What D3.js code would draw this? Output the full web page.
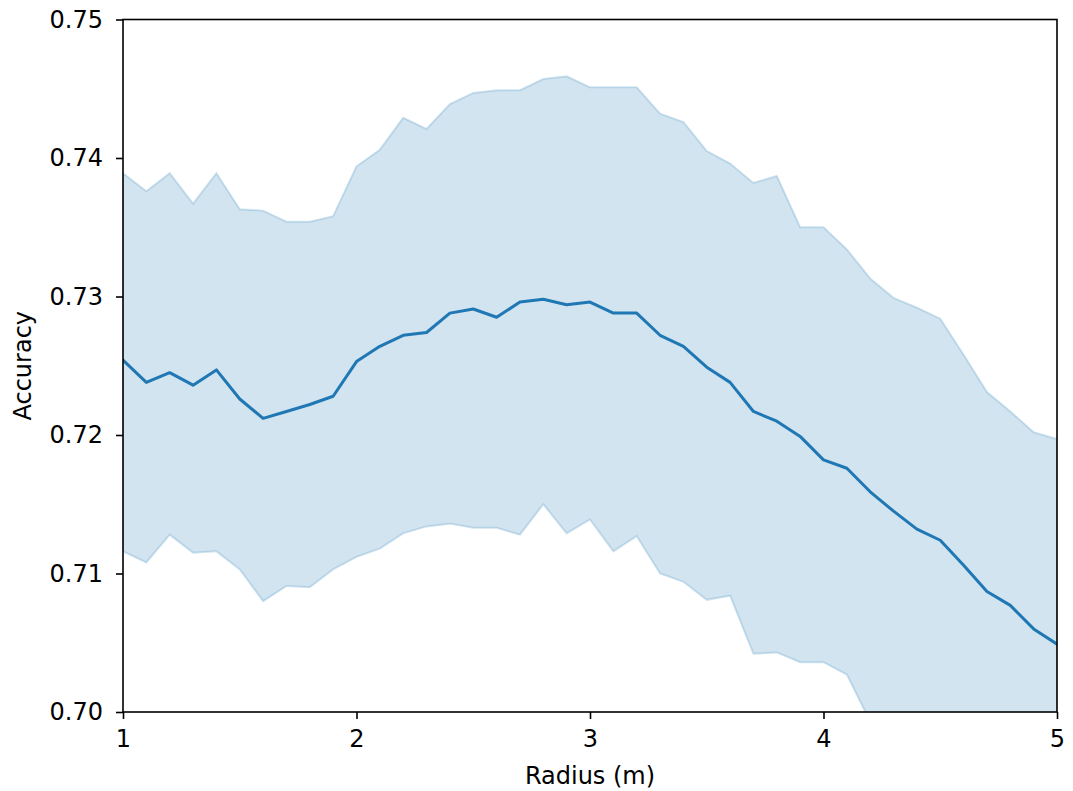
<!DOCTYPE html>
<html>
<head>
<meta charset="utf-8">
<script src="https://cdn.jsdelivr.net/npm/d3@7"></script>
<style>
  html, body { margin: 0; padding: 0; background: #ffffff; }
  svg { display: block; }
  text { font-family: "DejaVu Sans", sans-serif; fill: #000; }
</style>
</head>
<body>
<svg id="chart" width="1073" height="791"></svg>
<script>
// Radius sweep, 1.0 m to 5.0 m in 0.1 m steps
const radius = [1.0, 1.1, 1.2, 1.3, 1.4, 1.5, 1.6, 1.7, 1.8, 1.9,
                2.0, 2.1, 2.2, 2.3, 2.4, 2.5, 2.6, 2.7, 2.8, 2.9,
                3.0, 3.1, 3.2, 3.3, 3.4, 3.5, 3.6, 3.7, 3.8, 3.9,
                4.0, 4.1, 4.2, 4.3, 4.4, 4.5, 4.6, 4.7, 4.8, 4.9, 5.0];

// Mean accuracy
const meanAcc = [0.7254, 0.7238, 0.7245, 0.7236, 0.7247, 0.7226, 0.7212, 0.7217, 0.7222, 0.7228,
                 0.7253, 0.7264, 0.7272, 0.7274, 0.7288, 0.7291, 0.7285, 0.7296, 0.7298, 0.7294,
                 0.7296, 0.7288, 0.7288, 0.7272, 0.7264, 0.7249, 0.7238, 0.7217, 0.7210, 0.7199,
                 0.7182, 0.7176, 0.7159, 0.7145, 0.7132, 0.7124, 0.7106, 0.7087, 0.7077, 0.7060, 0.7049];

// Upper edge of the spread band
const upperAcc = [0.7389, 0.7376, 0.7389, 0.7367, 0.7389, 0.7363, 0.7362, 0.7354, 0.7354, 0.7358,
                  0.7394, 0.7406, 0.7429, 0.7421, 0.7439, 0.7447, 0.7449, 0.7449, 0.7457, 0.7459,
                  0.7451, 0.7451, 0.7451, 0.7432, 0.7426, 0.7405, 0.7396, 0.7382, 0.7387, 0.7350,
                  0.7350, 0.7334, 0.7313, 0.7299, 0.7292, 0.7284, 0.7258, 0.7231, 0.7217, 0.7202, 0.7197];

// Lower edge of the spread band
const lowerAcc = [0.7116, 0.7108, 0.7128, 0.7115, 0.7116, 0.7103, 0.7080, 0.7091, 0.7090, 0.7103,
                  0.7112, 0.7118, 0.7129, 0.7134, 0.7136, 0.7133, 0.7133, 0.7128, 0.7150, 0.7129,
                  0.7139, 0.7116, 0.7127, 0.7100, 0.7094, 0.7081, 0.7084, 0.7042, 0.7043, 0.7036,
                  0.7036, 0.7027, 0.6993, 0.6988, 0.6972, 0.6964, 0.6954, 0.6943, 0.6937, 0.6918, 0.6901];

const xTicks = [1, 2, 3, 4, 5];
const yTicks = [0.70, 0.71, 0.72, 0.73, 0.74, 0.75];

const rows = radius.map((r, i) => ({ r, mean: meanAcc[i], lo: lowerAcc[i], hi: upperAcc[i] }));

const margin = { top: 19.5, right: 16, bottom: 79, left: 123 };
const W = 1073, H = 791;
const innerW = W - margin.left - margin.right;
const innerH = H - margin.top - margin.bottom;

const svg = d3.select("#chart");
const g = svg.append("g").attr("transform", `translate(${margin.left},${margin.top})`);

const x = d3.scaleLinear().domain([1, 5]).range([0, innerW]);
const y = d3.scaleLinear().domain([0.70, 0.75]).range([innerH, 0]);

g.append("clipPath").attr("id", "plot-clip")
  .append("rect").attr("width", innerW).attr("height", innerH);

const plot = g.append("g").attr("clip-path", "url(#plot-clip)");

// Spread band
const band = d3.area().x(d => x(d.r)).y0(d => y(d.lo)).y1(d => y(d.hi));
plot.append("path").datum(rows)
  .attr("d", band)
  .attr("fill", "#1f77b4").attr("fill-opacity", 0.2)
  .attr("stroke", "#1f77b4").attr("stroke-opacity", 0.2)
  .attr("stroke-width", 2).attr("stroke-linejoin", "miter");

// Mean line
const line = d3.line().x(d => x(d.r)).y(d => y(d.mean));
plot.append("path").datum(rows)
  .attr("d", line)
  .attr("fill", "none")
  .attr("stroke", "#1f77b4").attr("stroke-width", 3)
  .attr("stroke-linejoin", "round").attr("stroke-linecap", "square");

// Axes
const xAxis = d3.axisBottom(x).tickValues(xTicks).tickFormat(d3.format("d"))
  .tickSize(7).tickPadding(11);
const yAxis = d3.axisLeft(y).tickValues(yTicks).tickFormat(d3.format(".2f"))
  .tickSize(7).tickPadding(13);

const gx = g.append("g").attr("transform", `translate(0,${innerH})`).call(xAxis);
const gy = g.append("g").call(yAxis);
[gx, gy].forEach(a => {
  a.select(".domain").remove();
  a.selectAll(".tick line").attr("stroke", "#000").attr("stroke-width", 1.6);
  a.selectAll(".tick text").attr("font-size", 24).attr("font-family", "DejaVu Sans, sans-serif").attr("fill", "#000");
});

// Frame
g.append("rect").attr("width", innerW).attr("height", innerH)
  .attr("fill", "none").attr("stroke", "#000").attr("stroke-width", 1.6);

// Axis titles
svg.append("text")
  .attr("x", margin.left + innerW / 2).attr("y", 784)
  .attr("text-anchor", "middle").attr("font-size", 24)
  .text("Radius (m)");

svg.append("text")
  .attr("transform", `translate(31,${margin.top + innerH / 2}) rotate(-90)`)
  .attr("text-anchor", "middle").attr("font-size", 24)
  .text("Accuracy");
</script>
</body>
</html>
